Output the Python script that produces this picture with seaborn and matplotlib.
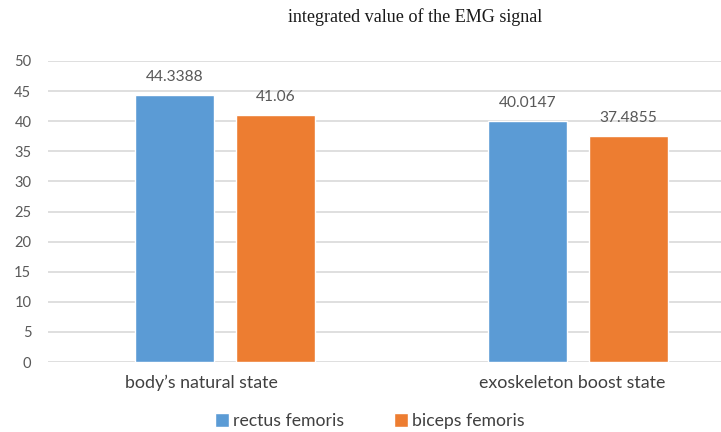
import matplotlib
matplotlib.use("Agg")
import matplotlib.pyplot as plt
import matplotlib.transforms as mtransforms
import seaborn as sns
import pandas as pd

# Data
states = ["body\u2019s natural state", "exoskeleton boost state"]
muscles = ["rectus femoris", "biceps femoris"]
rectus_values = [44.3388, 40.0147]
biceps_values = [41.06, 37.4855]
value_labels = {"rectus femoris": ["44.3388", "40.0147"],
                "biceps femoris": ["41.06", "37.4855"]}
y_ticks = [0, 5, 10, 15, 20, 25, 30, 35, 40, 45, 50]
colors = {"rectus femoris": "#5B9BD5", "biceps femoris": "#ED7D31"}

df = pd.DataFrame({
    "state": states * 2,
    "muscle": [muscles[0]] * 2 + [muscles[1]] * 2,
    "value": rectus_values + biceps_values,
})

sns.set_theme(style="white")
plt.rcParams["font.family"] = ["Lato", "DejaVu Sans"]

W, H = 721, 432
fig = plt.figure(figsize=(W / 100, H / 100), dpi=100)
ax = fig.add_axes([48 / W, (H - 362) / H, 707 / W, 301 / H])

sns.barplot(data=df, x="state", y="value", hue="muscle", order=states,
            hue_order=muscles, palette=colors, width=0.5714, gap=0.218,
            saturation=1, ax=ax, legend=True, zorder=3)

ax.set_xlim(-0.5, 1.5)
ax.set_ylim(0, 50)
ax.set_yticks(y_ticks)
ax.yaxis.grid(True, color="#D9D9D9", linewidth=1.2, zorder=0)
ax.set_axisbelow(True)
for s in ax.spines.values():
    s.set_visible(False)
ax.set_xlabel("")
ax.set_ylabel("")
ax.tick_params(axis="y", length=0, pad=12, labelsize=10.5, labelcolor="#595959")
ax.tick_params(axis="x", length=0, pad=9, labelsize=12.8, labelcolor="#404040")

# Nudge the category labels slightly left
for lbl, dx in zip(ax.get_xticklabels(), [-0.23, -0.065]):
    lbl.set_transform(lbl.get_transform()
                      + mtransforms.ScaledTranslation(dx, 0, fig.dpi_scale_trans))

# Value labels above bars
for container, m in zip(ax.containers, muscles):
    ax.bar_label(container, labels=value_labels[m], padding=8,
                 fontsize=11.2, color="#595959")

# Legend
handles, labels = ax.get_legend_handles_labels()
ax.legend(handles, labels, loc="center", bbox_to_anchor=(370 / W, (H - 421) / H),
          bbox_transform=fig.transFigure, ncol=2, frameon=False,
          fontsize=12.7, labelcolor="#404040", handlelength=0.8, handleheight=0.9,
          handletextpad=0.25, columnspacing=2.8)

fig.text(415 / W, (H - 17) / H, "integrated value of the EMG signal",
         ha="center", va="center", fontsize=13.1,
         family=["Liberation Serif", "DejaVu Serif"], color="#1a1a1a")

fig.savefig("out.png", dpi=100)
